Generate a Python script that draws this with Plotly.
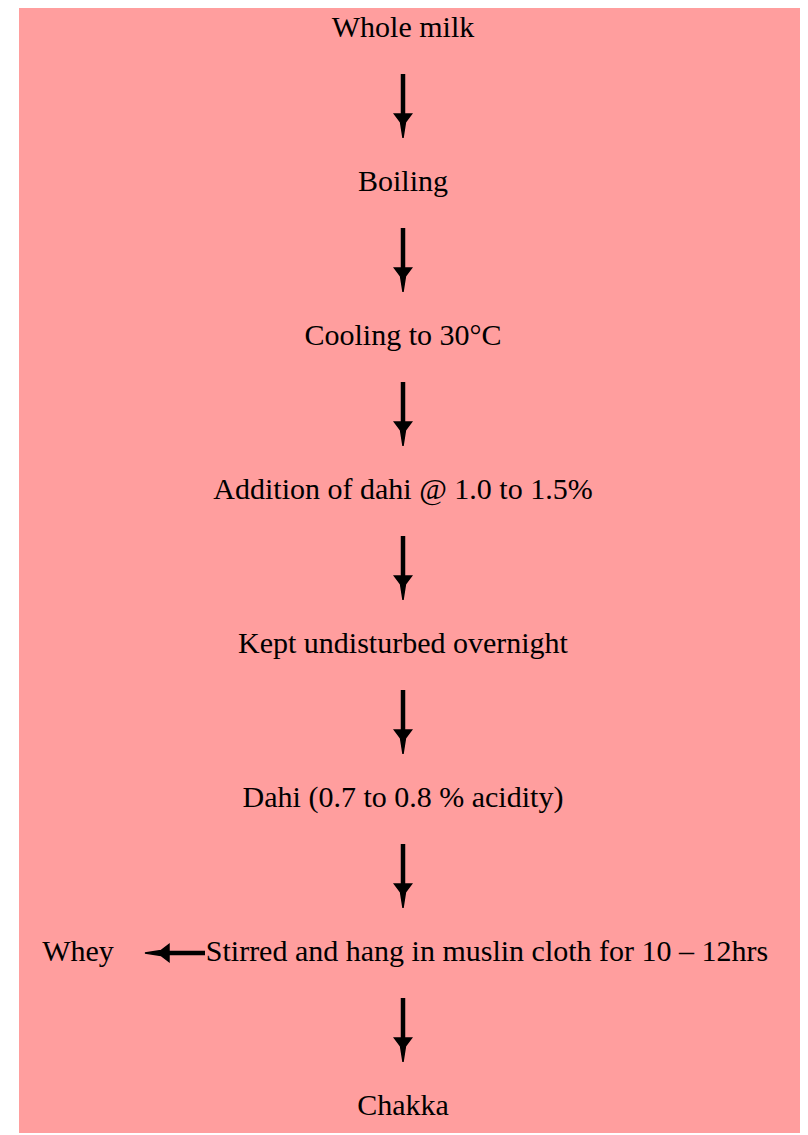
import plotly.graph_objects as go

# Flowchart content
steps = [
    "Whole milk",
    "Boiling",
    "Cooling to 30\u00b0C",
    "Addition of dahi @ 1.0 to 1.5%",
    "Kept undisturbed overnight",
    "Dahi (0.7 to 0.8 % acidity)",
    "Stirred and hang in muslin cloth for 10 \u2013 12hrs",
    "Chakka",
]
side_label = "Whey"
side_from_step = 6

W, H = 808, 1135
OFF = 8  # page body margin
BG = "rgb(255,158,158)"
row0, row_gap = 29, 154
cx = 403
font = dict(family="Liberation Serif, Times New Roman, serif", size=30, color="black")

fig = go.Figure()
fig.add_shape(type="rect", x0=19, x1=W + 20, y0=5, y1=1133, fillcolor=BG, line_width=0, layer="below")

ys = [row0 + i * row_gap for i in range(len(steps))]
xs = [cx] * len(steps)
xs[side_from_step] = 487

fig.add_trace(go.Scatter(x=xs, y=ys, mode="text", text=steps, textfont=font,
                         textposition="middle center", hoverinfo="skip", showlegend=False))
fig.add_trace(go.Scatter(x=[78], y=[ys[side_from_step]], mode="text", text=[side_label],
                         textfont=font, textposition="middle center", hoverinfo="skip", showlegend=False))

def varrow(y_top, y_tip, x):
    head = 24
    hw = 8.5
    fig.add_shape(type="line", x0=x, x1=x, y0=y_top, y1=y_tip - head + 2,
                  line=dict(color="black", width=4.5))
    fig.add_shape(type="path",
                  path=f"M{x-hw},{y_tip-head} L{x+hw},{y_tip-head} L{x+2.5},{y_tip-head+8} L{x},{y_tip} L{x-2.5},{y_tip-head+8} Z",
                  fillcolor="black", line=dict(color="black", width=1.5))

def harrow(x_start, x_tip, y):
    head = 24
    hw = 8.5
    fig.add_shape(type="line", x0=x_start, x1=x_tip + head - 2, y0=y, y1=y,
                  line=dict(color="black", width=4.5))
    fig.add_shape(type="path",
                  path=f"M{x_tip+head},{y-hw} L{x_tip+head},{y+hw} L{x_tip+head-8},{y+2.5} L{x_tip},{y} L{x_tip+head-8},{y-2.5} Z",
                  fillcolor="black", line=dict(color="black", width=1.5))

for i in range(len(steps) - 1):
    varrow(ys[i] + 45, ys[i] + 109, cx)

harrow(205, 145, ys[side_from_step])

fig.update_layout(
    width=W - OFF, height=H - OFF,
    margin=dict(l=0, r=0, t=0, b=0),
    paper_bgcolor="white", plot_bgcolor="white",
    xaxis=dict(range=[OFF, W], visible=False, fixedrange=True),
    yaxis=dict(range=[H, OFF], visible=False, fixedrange=True),
    showlegend=False,
)
fig.write_html("out.html")
